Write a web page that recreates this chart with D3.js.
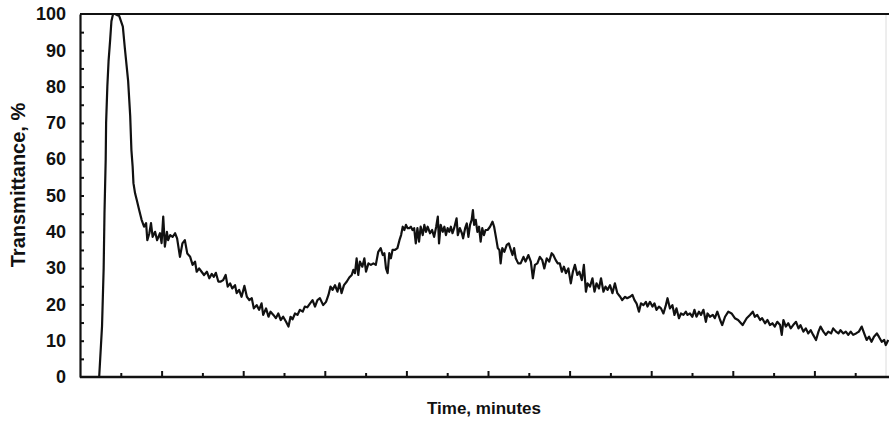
<!DOCTYPE html>
<html>
<head>
<meta charset="utf-8">
<script src="https://cdn.jsdelivr.net/npm/d3@7/dist/d3.min.js"></script>
<style>
  html, body { margin: 0; padding: 0; background: #fff; }
  svg { display: block; }
  text { font-family: "Liberation Sans", Arial, sans-serif; fill: #111; }
</style>
</head>
<body>
<svg id="chart" width="889" height="422"></svg>
<script>
// ---- Data (time in x-tick units, transmittance in %) ----
const time = [
  0.47,0.54,0.58,0.60,0.63,0.64,0.67,0.70,0.74,0.77,0.81,0.86,0.91,0.96,1.05,1.10,1.18,1.23,1.26,1.29,1.31,1.35,1.39,
  1.45,1.51,1.57,1.62,1.65,1.70,1.74,1.78,1.84,1.89,1.96,2.00,2.04,2.08,2.13,2.16,2.21,2.27,2.33,2.38,2.45,2.51,2.57,2.63,2.70,2.76,2.82,2.86,2.92,2.98,
  3.04,3.11,3.17,3.23,3.28,3.33,3.39,3.45,3.51,3.57,3.62,3.68,3.73,3.80,3.84,3.90,3.96,4.03,4.09,4.15,4.21,4.26,4.33,4.39,4.45,4.49,4.56,4.62,4.67,4.74,4.80,4.86,4.92,4.98,
  5.05,5.11,5.16,5.21,5.27,5.33,5.39,5.46,5.51,5.57,5.64,5.70,5.76,5.82,5.88,5.96,6.03,6.09,6.14,6.19,6.25,6.31,6.36,6.41,6.47,6.54,6.60,6.66,6.70,6.74,6.78,6.82,6.86,6.92,6.97,
  7.01,7.07,7.13,7.19,7.25,7.31,7.37,7.42,7.46,7.50,7.54,7.58,7.62,7.66,7.72,7.78,7.83,7.87,7.91,7.95,7.99,8.03,8.07,8.11,8.15,8.19,8.23,8.27,8.31,8.35,8.40,8.44,8.48,8.52,8.58,8.63,8.68,8.73,8.77,8.80,8.84,8.89,8.93,8.97,
  9.01,9.05,9.09,9.13,9.17,9.23,9.26,9.31,9.36,9.39,9.44,9.48,9.52,9.56,9.60,9.63,9.66,9.70,9.74,9.78,9.82,9.86,9.90,9.94,9.99,
  10.05,10.11,10.15,10.20,10.24,10.28,10.31,10.35,10.40,10.46,10.51,10.56,10.60,10.64,10.68,10.74,10.80,10.87,10.92,10.99,
  11.05,11.10,11.15,11.21,11.27,11.33,11.38,11.44,11.50,11.56,11.60,11.66,11.71,11.76,11.81,11.86,11.91,11.97,
  12.03,12.08,12.13,12.19,12.24,12.30,12.35,12.40,12.44,12.50,12.56,12.61,12.66,12.72,12.77,12.83,12.88,12.93,12.99,
  13.05,13.11,13.17,13.24,13.29,13.36,13.41,13.48,13.54,13.59,13.64,13.70,13.75,13.81,13.87,13.91,13.97,
  14.03,14.08,14.13,14.19,14.24,14.30,14.36,14.40,14.46,14.52,14.57,14.62,14.68,14.73,14.79,14.85,14.89,14.95,
  15.01,15.06,15.11,15.17,15.22,15.28,15.34,15.38,15.44,15.51,15.56,15.62,15.69,15.74,15.81,15.89,15.97,
  16.05,16.13,16.24,16.34,16.42,16.49,16.54,16.60,16.67,16.72,16.79,16.85,16.91,16.97,
  17.03,17.09,17.16,17.20,17.24,17.30,17.36,17.42,17.48,17.55,17.61,17.66,17.73,17.79,17.85,17.91,17.97,
  18.04,18.10,18.15,18.22,18.28,18.34,18.41,18.46,18.53,18.59,18.64,18.71,18.77,18.83,18.89,18.95,
  19.02,19.09,19.16,19.22,19.28,19.34,19.40,19.46,19.53,19.58,19.65,19.71,19.75,19.81
];
const transmittance = [
  0,14,30,45,60,70,80,87,93,98,100,100,99.7,99.5,96.5,90.5,81.5,72,62.5,58,53.4,50.6,48.8,
  46,43.3,41.4,42.4,37.7,39.6,42.4,38.6,40,37.7,39.6,36.9,44.2,35.9,40,37.7,39.1,38.6,39.6,38.2,33.1,36.8,37.7,34,33.1,30.9,31.8,29,29.9,29,
  28.1,29,27.2,28.4,27.6,28.7,26.3,26.3,26.7,28.1,24.9,25.8,24.4,25.3,23.1,24,22.1,25.1,22.1,21.2,21.7,18.9,19.8,18.5,20.3,17.1,18.9,16.6,18,17.1,16.2,17.5,15.7,16.6,
  15.2,13.9,16.6,15.9,17.5,17.1,18.5,18,19.4,19.2,20.3,21.2,19.4,21.2,21.7,19.8,20.7,22.6,24.9,24,25.3,23.5,25.8,23.1,25.3,26.3,27.4,28.1,29.5,28.6,32.7,28.1,31.8,30.4,32.7,
  29,31.3,30.9,31.3,30.9,34.5,35.5,33.6,34.1,29.9,28.6,34.1,32.7,35,35,35.5,37.7,39.1,41.4,40.5,41.9,41,41,41.4,40.5,41,36.8,41,37.3,41.4,39.1,41.9,40,41.4,39.6,40.5,38.6,41.4,44.2,36.8,41.9,40,41.4,39.1,
  41,40,41.4,39.6,41,43.7,39.1,41,39.6,38.2,41,42.3,38.6,41.9,43.3,46,41.9,43.3,40,41.4,37.3,41,39.1,40.5,40.5,
  41.4,42.8,41.4,38.2,35.5,35,31.3,35.5,34.5,36.4,36.8,35,33.6,35.5,32.7,31.3,31.3,33.1,31.8,33.6,
  31.8,27.2,30.9,31.3,33.1,32.2,29.9,32.7,31.8,34.1,33.6,32.2,31.3,31.3,29,30.4,28.6,29.9,
  25.8,29,30.9,28.1,29,26.7,30.9,23.5,25.8,24.9,27.2,23.5,25.8,24.4,27.2,23.5,24.9,24,25.3,
  23.1,25.8,23.1,22.1,21.2,22.1,21.7,22.1,22.6,21.2,20.3,18,20.3,19.8,20.7,19.4,20.7,
  19.4,20.3,18.5,19.4,18.9,17.5,19.8,21.7,18.9,19.8,17.1,18.9,16.2,17.5,17.1,18,17.1,17.5,
  16.6,18.5,16.6,18,17.1,18.5,15.2,17.5,16.6,17.1,16.2,18,15.7,14.3,16.6,18,17.5,
  16.2,15.7,14.3,16.2,17.1,18,16.6,17.1,15.7,16.2,14.8,15.7,14.3,14.8,
  13.9,15.2,14.3,11.6,15.7,13.9,14.8,13.4,14.3,15.2,13.4,14.3,12.5,13.4,12,12.9,11.6,
  10.2,12.5,13.9,12.5,11.6,12.5,12,13.4,12.5,12,12.9,12,12.5,11.6,12.5,11.6,
  12,12.5,13.9,12,10.2,11.1,9.7,11.1,12,11.1,9.7,10.2,8.8,10.2
];
const yTickValues = [0,10,20,30,40,50,60,70,80,90,100];
const yTickLabels = ["0","10","20","30","40","50","60","70","80","90","100"];
const xTickValues = d3.range(1, 20, 1);
const xLabel = "Time, minutes";
const yLabel = "Transmittance, %";

// ---- Layout ----
const W = 889, H = 422;
const plotLeft = 80, plotTop = 14, plotBottom = 377;
const x = d3.scaleLinear().domain([0, 20]).range([plotLeft, plotLeft + 20 * 40.8]);
const y = d3.scaleLinear().domain([0, 100]).range([plotBottom, plotTop]);

const svg = d3.select("#chart");
const data = time.map((t, i) => ({ t, v: transmittance[i] }));

svg.append("defs").append("clipPath").attr("id", "clip")
  .append("rect").attr("x", plotLeft).attr("y", plotTop - 4)
  .attr("width", W - plotLeft).attr("height", plotBottom - plotTop + 8);

// faint right border
svg.append("line").attr("x1", 886).attr("x2", 886).attr("y1", plotTop).attr("y2", plotBottom)
  .attr("stroke", "#dcdcdc").attr("stroke-width", 1);

// top border
svg.append("line").attr("x1", plotLeft).attr("x2", W).attr("y1", y(100)).attr("y2", y(100))
  .attr("stroke", "#111").attr("stroke-width", 2.2);

// data line
svg.append("path").datum(data)
  .attr("clip-path", "url(#clip)")
  .attr("fill", "none").attr("stroke", "#111").attr("stroke-width", 2.2)
  .attr("stroke-linejoin", "round")
  .attr("d", d3.line().x(d => x(d.t)).y(d => y(d.v)));

// y axis
const yAxis = d3.axisLeft(y).tickValues(yTickValues).tickSize(0).tickPadding(14)
  .tickFormat((d, i) => yTickLabels[i]);
const gy = svg.append("g").attr("transform", `translate(${plotLeft},0)`).call(yAxis);
gy.select(".domain").attr("stroke", "#111").attr("stroke-width", 2.2);
gy.selectAll("text").style("font-size", "18px").style("font-weight", "bold")
  .style("font-family", "'Liberation Sans', Arial, sans-serif").attr("fill", "#111");
// inward y ticks every 5
const yMinor = d3.axisRight(y).tickValues(d3.range(5, 100, 5)).tickSize(4).tickFormat("");
const gym = svg.append("g").attr("transform", `translate(${plotLeft},0)`).call(yMinor);
gym.select(".domain").remove();
gym.selectAll("line").attr("stroke", "#111").attr("stroke-width", 2);

// x axis (ticks inward, no labels)
const xAxisG = svg.append("g").attr("transform", `translate(0,${plotBottom})`);
xAxisG.append("line").attr("x1", plotLeft).attr("x2", W).attr("stroke", "#111").attr("stroke-width", 2.4);
const xt = d3.axisTop(x).tickValues(xTickValues).tickSize(4).tickFormat("");
const gx = xAxisG.append("g").call(xt);
gx.select(".domain").remove();
gx.selectAll(".tick line").attr("stroke", "#111").attr("stroke-width", 2)
  .attr("y2", d => (d % 2 === 0 ? -6 : -4));

// axis titles
svg.append("text").attr("x", 484).attr("y", 414).attr("text-anchor", "middle")
  .style("font-size", "17px").style("font-weight", "bold").text(xLabel);
svg.append("text").attr("transform", `translate(25,185) rotate(-90)`).attr("text-anchor", "middle")
  .style("font-size", "20px").style("font-weight", "bold").text(yLabel);
</script>
</body>
</html>
